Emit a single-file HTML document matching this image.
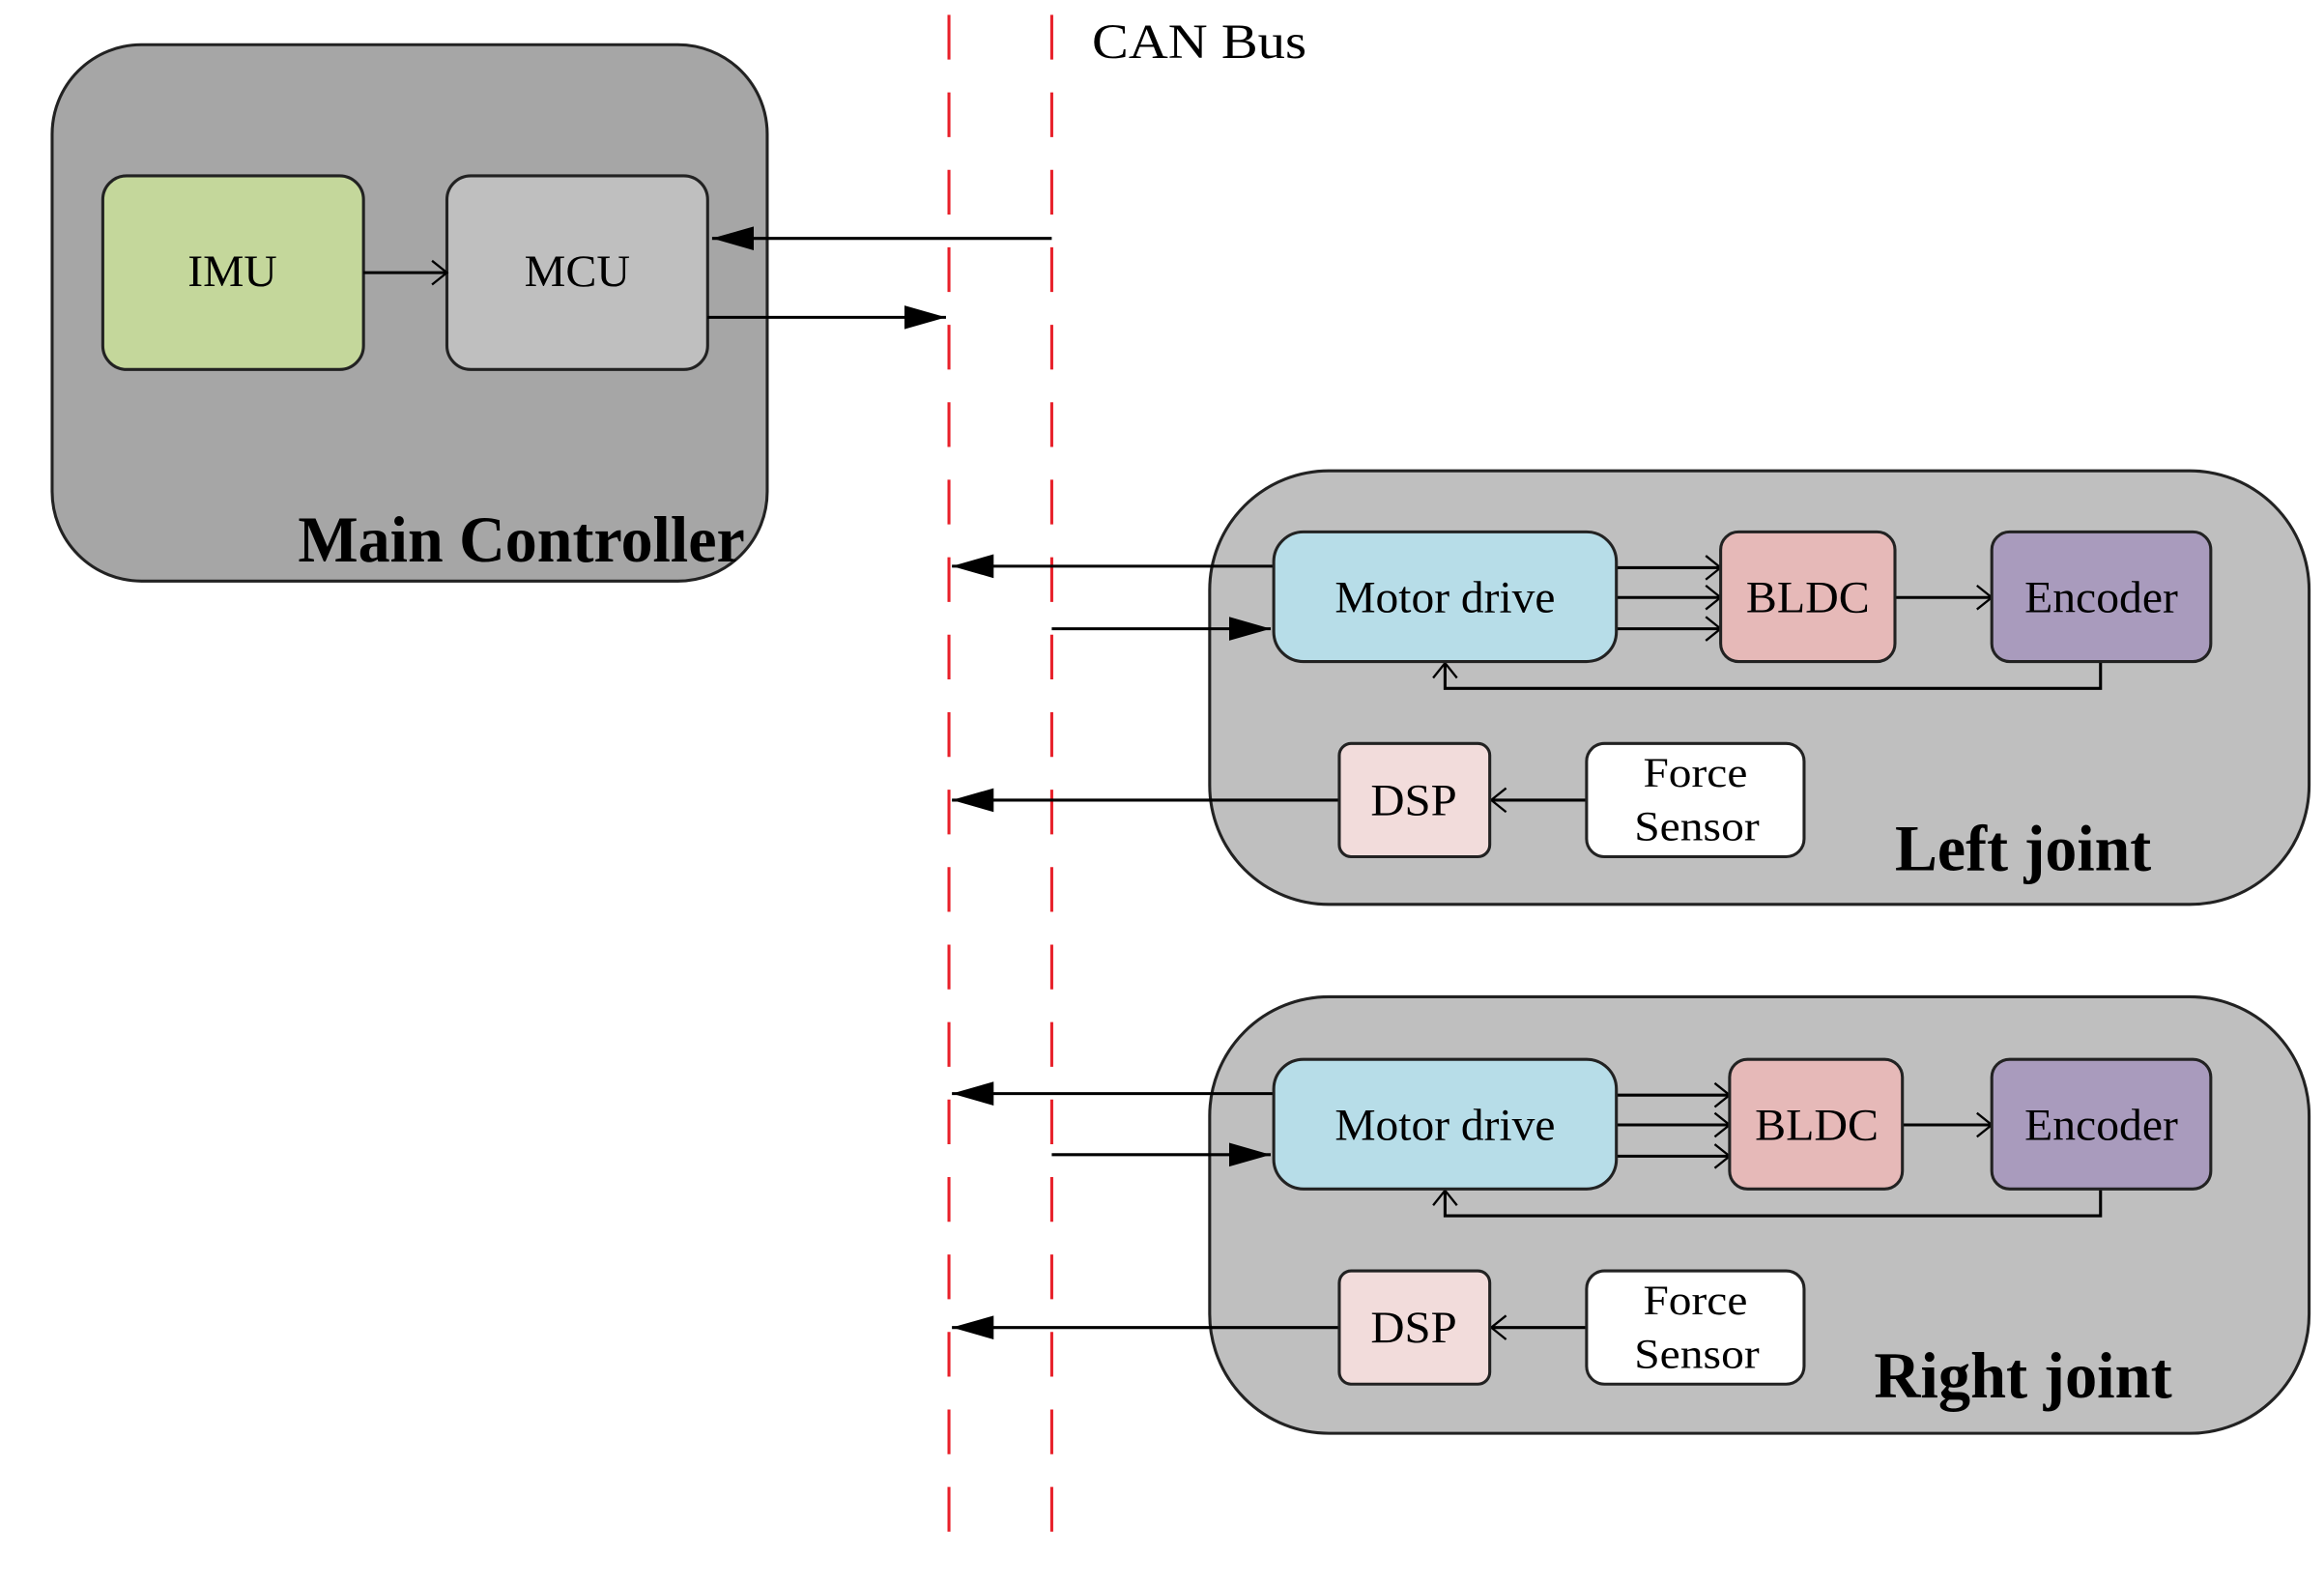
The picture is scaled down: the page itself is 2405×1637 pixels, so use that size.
<!DOCTYPE html>
<html><head><meta charset="utf-8"><style>html,body{margin:0;padding:0;background:#fff}svg{display:block}</style></head>
<body>
<svg width="2405" height="1637" viewBox="0 0 1560 1061.8" preserveAspectRatio="none" xmlns="http://www.w3.org/2000/svg" font-family="Liberation Serif, serif">
<defs>
<marker id="fa" markerWidth="30" markerHeight="20" refX="28" refY="10" orient="auto" markerUnits="userSpaceOnUse"><path d="M0,2 L28,10 L0,18 Z" fill="#000"/></marker>
<marker id="oa" markerWidth="16" markerHeight="20" refX="14" refY="10" orient="auto" markerUnits="userSpaceOnUse"><path d="M4,2 L14,10 L4,18" fill="none" stroke="#000" stroke-width="1.5"/></marker>
</defs>
<g stroke="#222" stroke-width="2">
<rect x="35" y="30" width="480" height="360" rx="60" fill="#a6a6a6"/>
<rect x="69" y="118" width="175" height="130" rx="16" fill="#c4d79b"/>
<rect x="300" y="118" width="175" height="130" rx="16" fill="#bfbfbf"/>
<rect x="812" y="316" width="738" height="291" rx="80" fill="#bfbfbf"/>
<rect x="812" y="669" width="738" height="293" rx="80" fill="#bfbfbf"/>
</g>
<g stroke="#e8202a" stroke-width="2" stroke-dasharray="30,22">
<line x1="637" y1="10" x2="637" y2="1042"/>
<line x1="706" y1="10" x2="706" y2="1042"/>
</g>
<g stroke="#000" stroke-width="2" fill="none">
<line x1="244" y1="183" x2="300" y2="183" marker-end="url(#oa)"/>
<line x1="706" y1="160" x2="478" y2="160" marker-end="url(#fa)"/>
<line x1="475" y1="213" x2="635" y2="213" marker-end="url(#fa)"/>
</g>
<g id="joint">
<g stroke="#000" stroke-width="2" fill="none">
<line x1="855" y1="380" x2="639" y2="380" marker-end="url(#fa)"/>
<line x1="706" y1="422" x2="853" y2="422" marker-end="url(#fa)"/>
<line x1="1085" y1="381" x2="1155" y2="381" marker-end="url(#oa)"/>
<line x1="1085" y1="401" x2="1155" y2="401" marker-end="url(#oa)"/>
<line x1="1085" y1="422" x2="1155" y2="422" marker-end="url(#oa)"/>
<line x1="1272" y1="401" x2="1337" y2="401" marker-end="url(#oa)"/>
<polyline points="1410,444 1410,462 970,462 970,445" marker-end="url(#oa)"/>
<line x1="1065" y1="537" x2="1001" y2="537" marker-end="url(#oa)"/>
<line x1="899" y1="537" x2="639" y2="537" marker-end="url(#fa)"/>
</g>
<g stroke="#222" stroke-width="2">
<rect x="855" y="357" width="230" height="87" rx="20" fill="#b7dde8"/>
<rect x="1155" y="357" width="117" height="87" rx="12" fill="#e6b9b8"/>
<rect x="1337" y="357" width="147" height="87" rx="12" fill="#a99bbd"/>
<rect x="899" y="499" width="101" height="76" rx="8" fill="#f2dcdb"/>
<rect x="1065" y="499" width="146" height="76" rx="12" fill="#fff"/>
</g>
<g font-size="30" fill="#000" lengthAdjust="spacingAndGlyphs">
<text x="896" y="411" textLength="148" lengthAdjust="spacingAndGlyphs">Motor drive</text>
<text x="1172" y="411" textLength="83" lengthAdjust="spacingAndGlyphs">BLDC</text>
<text x="1359" y="411" textLength="103" lengthAdjust="spacingAndGlyphs">Encoder</text>
<text x="920" y="547" textLength="58" lengthAdjust="spacingAndGlyphs">DSP</text>
<text x="1103" y="528" font-size="28" textLength="70" lengthAdjust="spacingAndGlyphs">Force</text>
<text x="1097" y="564" font-size="28" textLength="84" lengthAdjust="spacingAndGlyphs">Sensor</text>
</g>
</g>
<g stroke="#000" stroke-width="2" fill="none">
<line x1="855" y1="734" x2="639" y2="734" marker-end="url(#fa)"/>
<line x1="706" y1="775" x2="853" y2="775" marker-end="url(#fa)"/>
<line x1="1085" y1="735" x2="1161" y2="735" marker-end="url(#oa)"/>
<line x1="1085" y1="755" x2="1161" y2="755" marker-end="url(#oa)"/>
<line x1="1085" y1="776" x2="1161" y2="776" marker-end="url(#oa)"/>
<line x1="1277" y1="755" x2="1337" y2="755" marker-end="url(#oa)"/>
<polyline points="1410,798 1410,816 970,816 970,799" marker-end="url(#oa)"/>
<line x1="1065" y1="891" x2="1001" y2="891" marker-end="url(#oa)"/>
<line x1="899" y1="891" x2="639" y2="891" marker-end="url(#fa)"/>
</g>
<g stroke="#222" stroke-width="2">
<rect x="855" y="711" width="230" height="87" rx="20" fill="#b7dde8"/>
<rect x="1161" y="711" width="116" height="87" rx="12" fill="#e6b9b8"/>
<rect x="1337" y="711" width="147" height="87" rx="12" fill="#a99bbd"/>
<rect x="899" y="853" width="101" height="76" rx="8" fill="#f2dcdb"/>
<rect x="1065" y="853" width="146" height="76" rx="12" fill="#fff"/>
</g>
<g font-size="30" fill="#000">
<text x="896" y="765" textLength="148" lengthAdjust="spacingAndGlyphs">Motor drive</text>
<text x="1178" y="765" textLength="83" lengthAdjust="spacingAndGlyphs">BLDC</text>
<text x="1359" y="765" textLength="103" lengthAdjust="spacingAndGlyphs">Encoder</text>
<text x="920" y="901" textLength="58" lengthAdjust="spacingAndGlyphs">DSP</text>
<text x="1103" y="882" font-size="28" textLength="70" lengthAdjust="spacingAndGlyphs">Force</text>
<text x="1097" y="918" font-size="28" textLength="84" lengthAdjust="spacingAndGlyphs">Sensor</text>
<text x="126" y="192" textLength="60" lengthAdjust="spacingAndGlyphs">IMU</text>
<text x="352" y="192" textLength="71" lengthAdjust="spacingAndGlyphs">MCU</text>
<text x="733" y="39" font-size="33" textLength="144" lengthAdjust="spacingAndGlyphs">CAN Bus</text>
<text x="200" y="377" font-size="44" font-weight="bold" textLength="300" lengthAdjust="spacingAndGlyphs">Main Controller</text>
<text x="1272" y="584" font-size="44" font-weight="bold" textLength="172" lengthAdjust="spacingAndGlyphs">Left joint</text>
<text x="1258" y="938" font-size="44" font-weight="bold" textLength="200" lengthAdjust="spacingAndGlyphs">Right joint</text>
</g>
</svg>
</body></html>
